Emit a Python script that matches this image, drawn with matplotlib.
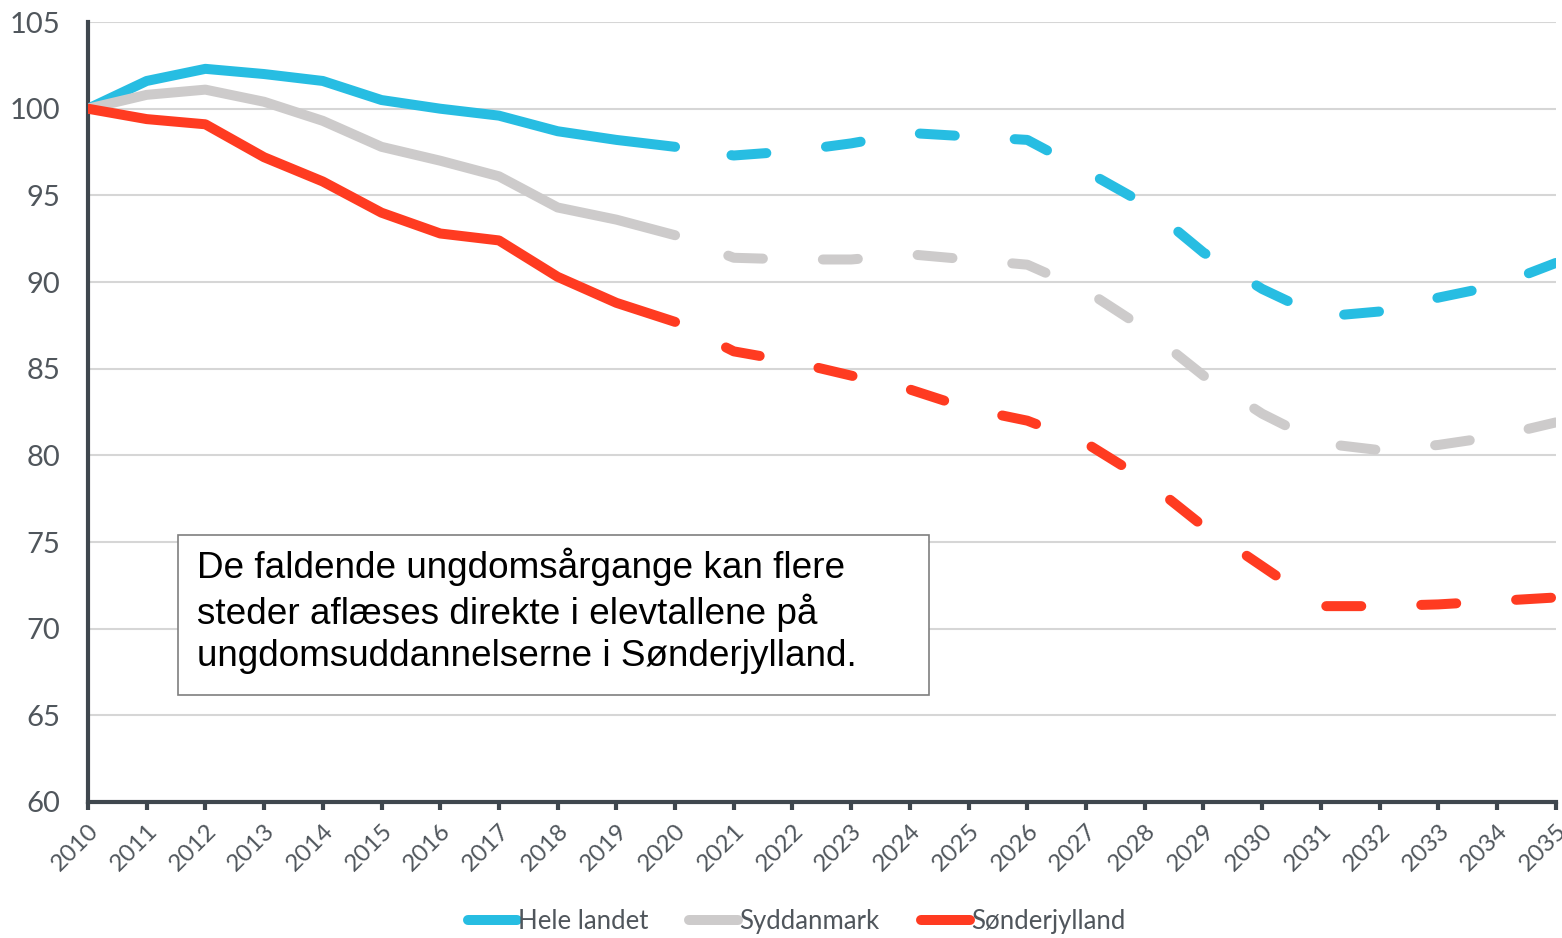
import matplotlib.pyplot as plt
from matplotlib.patches import Rectangle

years = list(range(2010, 2036))
hele_landet = [100.0, 101.6, 102.3, 102.0, 101.6, 100.5, 100.0, 99.6, 98.7, 98.2, 97.8,
               97.3, 97.55, 98.0, 98.6, 98.4, 98.2, 96.4, 94.5, 91.7, 89.6, 88.0, 88.3, 89.1, 89.8, 91.1]
syddanmark = [100.0, 100.8, 101.1, 100.4, 99.3, 97.8, 97.0, 96.1, 94.3, 93.6, 92.7,
              91.4, 91.3, 91.3, 91.6, 91.3, 91.0, 89.5, 87.3, 84.6, 82.4, 80.7, 80.3, 80.6, 81.1, 81.9]
sonderjylland = [100.0, 99.4, 99.1, 97.2, 95.8, 94.0, 92.8, 92.4, 90.3, 88.8, 87.7,
                 86.0, 85.4, 84.6, 83.8, 82.7, 82.0, 80.7, 78.6, 75.9, 73.6, 71.3, 71.3, 71.4, 71.6, 71.8]
series = [("Hele landet", hele_landet, "#27bde2"),
          ("Syddanmark", syddanmark, "#cdcbcb"),
          ("Sønderjylland", sonderjylland, "#ff3b21")]
split_year = 2020
note = ("De faldende ungdomsårgange kan flere\n"
        "steder aflæses direkte i elevtallene på\n"
        "ungdomsuddannelserne i Sønderjylland.")

axis_col = "#3f474e"
text_col = "#50565c"
lato = ["Lato", "DejaVu Sans"]

fig = plt.figure(figsize=(15.62, 9.38), dpi=100)
ax = fig.add_axes([0.0563, 0.145, 0.9397, 0.8315])

k = years.index(split_year)
lw = 7.2
for name, vals, col in series:
    ax.plot(years[:k + 1], vals[:k + 1], color=col, lw=lw, solid_capstyle="round",
            solid_joinstyle="round", label=name, zorder=3)
    ax.plot(years[k:], vals[k:], color=col, lw=lw, dash_capstyle="round",
            dash_joinstyle="round", linestyle=(3.8, (3.5, 6.0)), zorder=3)

ax.set_xlim(2010, 2035)
ax.set_ylim(60, 105)
ax.set_yticks(range(60, 106, 5))
ax.set_xticks(years)
ax.set_xticklabels([str(y) for y in years], rotation=45, ha="right", rotation_mode="anchor")
ax.grid(axis="y", color="#d6d6d6", lw=1.5, zorder=0)
ax.set_axisbelow(True)
for s in ["top", "right"]:
    ax.spines[s].set_visible(False)
for s in ["left", "bottom"]:
    ax.spines[s].set_color(axis_col)
    ax.spines[s].set_linewidth(3)
ax.tick_params(axis="y", length=0, pad=20, labelsize=21, labelcolor=text_col)
ax.tick_params(axis="x", length=6, width=3, color=axis_col, pad=7, labelsize=17.5,
               labelcolor=text_col)
for lab in ax.get_xticklabels() + ax.get_yticklabels():
    lab.set_family(lato)

# note box
ax.add_patch(Rectangle((0.0613, 0.137), 0.512, 0.205, transform=ax.transAxes,
                       facecolor="white", edgecolor="#7f7f7f", lw=1.2, zorder=4))
ax.text(0.0743, 0.326, note, transform=ax.transAxes, va="top", ha="left",
        fontsize=26.6, family="Liberation Sans", color="black", linespacing=1.25, zorder=5)

leg = fig.legend(loc="lower center", bbox_to_anchor=(0.51, -0.02), ncol=3, frameon=False,
                 handlelength=1.9, handletextpad=0.05, columnspacing=1.6,
                 prop={"family": lato, "size": 18.5})
for t in leg.get_texts():
    t.set_color(text_col)

fig.savefig("out.png", dpi=100)
